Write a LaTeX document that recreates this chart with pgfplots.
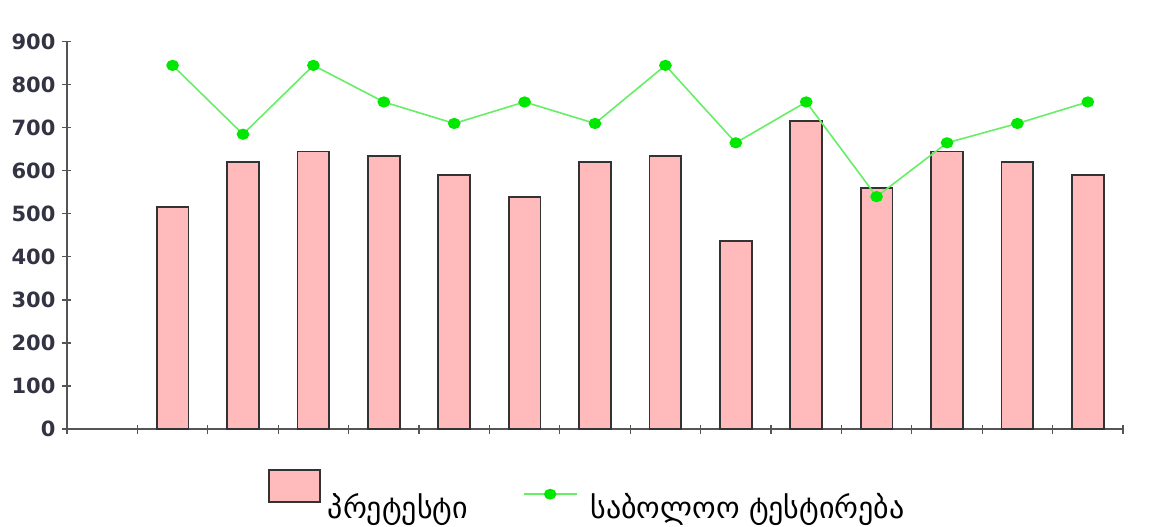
\documentclass[border=0pt]{standalone}
\usepackage{fontspec}
\setmainfont{DejaVu Sans}
\usepackage{pgfplots}
\pgfplotsset{compat=1.18}
\definecolor{barfill}{HTML}{FFBBBB}
\definecolor{baredge}{HTML}{333333}
\definecolor{linegreen}{HTML}{66EE66}
\definecolor{markgreen}{HTML}{00E800}
\definecolor{axisgray}{HTML}{555555}
\definecolor{ticktext}{HTML}{333344}
\begin{document}
\begin{tikzpicture}
\useasboundingbox (0,0) rectangle (575pt,263pt);
\begin{axis}[
  at={(33.5pt,48.5pt)}, anchor=south west,
  scale only axis,
  width=528pt, height=193.65pt,
  xmin=0, xmax=15, ymin=0, ymax=900,
  xtick={0,...,15}, xticklabels={},
  ytick={0,100,...,900},
  axis lines*=left,
  axis line style={axisgray, line width=0.7pt},
  tick style={axisgray, line width=0.6pt},
  tick align=center,
  major tick length=4.5pt,
  /pgf/number format/assume math mode=true,
  yticklabel style={font=\bfseries\fontsize{10.5}{12}\selectfont, text=ticktext},
  clip=false,
  legend columns=2,
  legend style={draw=none, fill=none, at={(0.19,-0.103)}, anchor=north west,
    font=\fontsize{15}{17}\selectfont, inner sep=0pt,
    cells={anchor=base west},
    /tikz/every even column/.append style={column sep=25.5pt}},
]
\addplot[ybar, bar width=0.45, fill=barfill, draw=baredge, line width=0.9pt,
  legend image code/.code={\draw[fill=barfill, draw=baredge, line width=0.9pt] (0pt,8pt) rectangle (25.5pt,24pt);}]
  coordinates {
  (1.5,515) (2.5,620) (3.5,645) (4.5,634) (5.5,590) (6.5,540) (7.5,620)
  (8.5,634) (9.5,436) (10.5,715) (11.5,560) (12.5,645) (13.5,620) (14.5,590)
  };
\addlegendentry{\hspace{1.5pt}პრეტესტი}
\addplot[color=linegreen, line width=0.8pt, mark=*,
  mark options={draw=markgreen, fill=markgreen, xscale=1.15},
  mark size=2.4pt,
  legend image code/.code={\draw[color=linegreen, line width=0.8pt] (0pt,12pt) -- (26.5pt,12pt);
     \fill[markgreen] (13.25pt,12pt) ellipse (2.7pt and 2.3pt);}]
  coordinates {
  (1.5,845) (2.5,685) (3.5,845) (4.5,760) (5.5,710) (6.5,760) (7.5,710)
  (8.5,845) (9.5,665) (10.5,760) (11.5,540) (12.5,665) (13.5,710) (14.5,760)
  };
\addlegendentry{\hspace{4.5pt}საბოლოო ტესტირება}
\end{axis}
\end{tikzpicture}
\end{document}
